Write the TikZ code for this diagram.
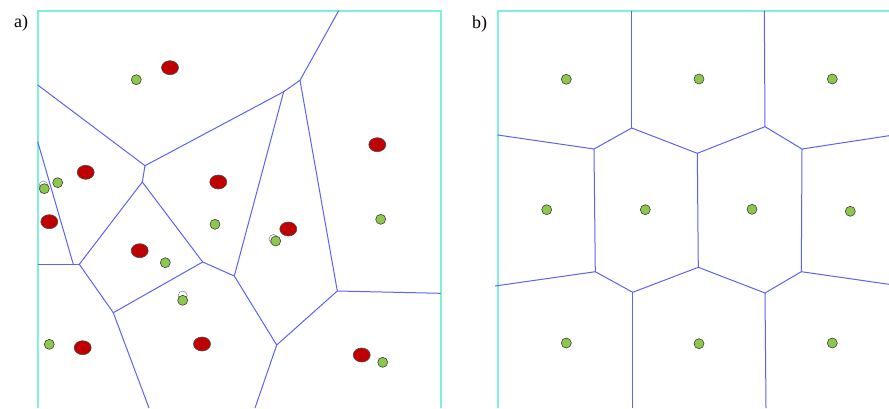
\documentclass[tikz,border=0pt]{standalone}
\usepackage{fontspec}
\setmainfont{Liberation Serif}
\usetikzlibrary{shapes.geometric}
\definecolor{framec}{HTML}{7FF0DC}
\definecolor{edgec}{HTML}{5B63F0}
\definecolor{greenf}{HTML}{8CC84B}
\definecolor{redf}{HTML}{C00000}
\tikzset{
  frameline/.style={draw=framec, line width=1.6pt},
  vedge/.style={draw=edgec, line width=1pt},
  gdot/.style={circle, fill=greenf, draw=black!75, line width=0.6pt, minimum size=10pt, inner sep=0pt},
  rdot/.style={ellipse, fill=redf, draw=black!70, line width=0.6pt, minimum width=17pt, minimum height=14pt, inner sep=0pt},
  shdot/.style={circle, fill=white, draw=black!45, line width=0.6pt, minimum size=9pt, inner sep=0pt},
  lbl/.style={font=\fontsize{18}{20}\selectfont, inner sep=0pt}
}
\begin{document}
\begin{tikzpicture}[x=1pt,y=-1pt]
\useasboundingbox (0,0) rectangle (889,408);
% ---------- panel a ----------
\node[lbl] (la) at (21,23) {a)};
\draw[frameline] (37.7,408) -- (37.7,10.7) -- (440.7,10.7) -- (440.7,408);
\coordinate (aT) at (338.7,10.7);
\coordinate (aL1) at (37.7,85);
\coordinate (aL2) at (37.7,141.7);
\coordinate (aL3) at (37.7,264.3);
\coordinate (aR) at (440.7,293.3);
\coordinate (aB1) at (149,408);
\coordinate (aB2) at (255,408);
\coordinate (v1) at (300,80.3);
\coordinate (v2) at (283.7,91.7);
\coordinate (v3) at (145,165.7);
\coordinate (v4) at (142.3,182);
\coordinate (v5) at (73.3,264.3);
\coordinate (v6) at (79.3,264.3);
\coordinate (v7) at (202.7,262);
\coordinate (v8) at (234.3,276);
\coordinate (v9) at (113.3,312.7);
\coordinate (v10) at (337.3,291);
\coordinate (v11) at (276.7,345);
\draw[vedge] (aT) -- (v1) -- (v2) -- (v3) -- (aL1);
\draw[vedge] (v1) -- (v10) -- (aR);
\draw[vedge] (v2) -- (v8) -- (v11) -- (v10);
\draw[vedge] (v11) -- (aB2);
\draw[vedge] (v3) -- (v4) -- (v6) -- (v9) -- (aB1);
\draw[vedge] (v4) -- (v7) -- (v8);
\draw[vedge] (v7) -- (v9);
\draw[vedge] (aL2) -- (v5);
\draw[vedge] (aL3) -- (v6);
% shadow dots
\node[shdot] (s1) at (43.5,185.5) {};
\node[shdot] (s2) at (273.5,239) {};
\node[shdot] (s3) at (182.7,295.5) {};
% red dots
\node[rdot] (r1) at (170,67.7) {};
\node[rdot] (r2) at (377.3,144.7) {};
\node[rdot] (r3) at (85.7,172.3) {};
\node[rdot] (r4) at (218.3,182) {};
\node[rdot] (r5) at (49.3,221.7) {};
\node[rdot] (r6) at (288.3,229) {};
\node[rdot] (r7) at (139.7,250.7) {};
\node[rdot] (r8) at (82.7,347.7) {};
\node[rdot] (r9) at (202,344) {};
\node[rdot] (r10) at (361.7,355) {};
% green dots
\node[gdot] (g1) at (136.3,79.7) {};
\node[gdot] (g2) at (57.7,182.7) {};
\node[gdot] (g3) at (44.3,188.7) {};
\node[gdot] (g4) at (215,224.3) {};
\node[gdot] (g5) at (380.7,219.3) {};
\node[gdot] (g6) at (275.7,241) {};
\node[gdot] (g7) at (165.3,262.7) {};
\node[gdot] (g8) at (182.7,300.3) {};
\node[gdot] (g9) at (49.3,344.3) {};
\node[gdot] (g10) at (382.7,362.3) {};
% ---------- panel b ----------
\node[lbl] (lb) at (479.5,24) {b)};
\draw[frameline] (497.7,408) -- (497.7,10.7) -- (889,10.7);
\coordinate (bT1) at (631.7,10.7);
\coordinate (bT2) at (764.3,10.7);
\coordinate (bL1) at (497.7,135);
\coordinate (bR1) at (889,135.7);
\coordinate (bL2) at (495,286);
\coordinate (bR2) at (889,284.3);
\coordinate (bB1) at (632.7,408);
\coordinate (bB2) at (766,408);
\coordinate (wA) at (631.7,128);
\coordinate (wB) at (765,126.7);
\coordinate (wC) at (594,149);
\coordinate (wD) at (697.3,153.3);
\coordinate (wE) at (802,149);
\coordinate (wF) at (595.3,271.7);
\coordinate (wG) at (698.3,267.3);
\coordinate (wH) at (801.3,271.7);
\coordinate (wI) at (632.7,292.3);
\coordinate (wJ) at (765,293);
\draw[vedge] (bT1) -- (wA);
\draw[vedge] (bT2) -- (wB);
\draw[vedge] (bL1) -- (wC) -- (wA) -- (wD) -- (wB) -- (wE) -- (bR1);
\draw[vedge] (wC) -- (wF);
\draw[vedge] (wD) -- (wG);
\draw[vedge] (wE) -- (wH);
\draw[vedge] (bL2) -- (wF) -- (wI) -- (wG) -- (wJ) -- (wH) -- (bR2);
\draw[vedge] (wI) -- (bB1);
\draw[vedge] (wJ) -- (bB2);
\node[gdot] (h1) at (566.3,79.3) {};
\node[gdot] (h2) at (699,79) {};
\node[gdot] (h3) at (832.3,79) {};
\node[gdot] (h4) at (546.7,209.7) {};
\node[gdot] (h5) at (645.3,209.7) {};
\node[gdot] (h6) at (752,209.3) {};
\node[gdot] (h7) at (850.3,211.3) {};
\node[gdot] (h8) at (566.3,343) {};
\node[gdot] (h9) at (699,343.7) {};
\node[gdot] (h10) at (832.3,343) {};
\end{tikzpicture}
\end{document}
